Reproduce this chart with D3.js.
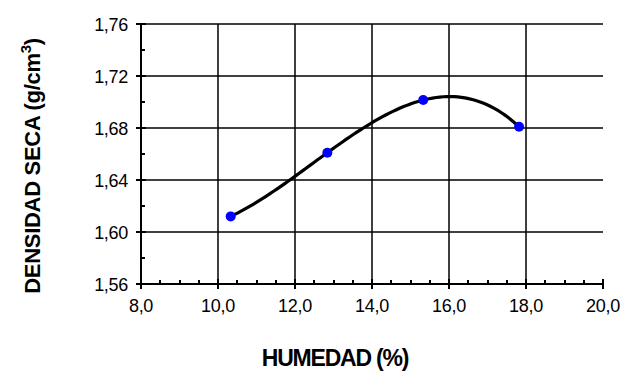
<!DOCTYPE html>
<html><head><meta charset="utf-8">
<script src="https://cdn.jsdelivr.net/npm/d3@7"></script>
<style>html,body{margin:0;padding:0;background:#fff;}svg{display:block;}</style>
</head><body>
<script>
const humedad = [10.33, 12.84, 15.33, 17.82];
const densidad = [1.612, 1.661, 1.7015, 1.681];
const xTicks = [8, 10, 12, 14, 16, 18, 20];
const yTicks = [1.56, 1.60, 1.64, 1.68, 1.72, 1.76];
const xTitle = "HUMEDAD (%)";
const yTitle = "DENSIDAD SECA (g/cm";

const W = 633, H = 378;
const svg = d3.select("body").append("svg").attr("width", W).attr("height", H);
const x = d3.scaleLinear().domain([8, 20]).range([141, 603]);
const y = d3.scaleLinear().domain([1.56, 1.76]).range([284, 24]);
const fmt = (d, p) => d.toFixed(p).replace(".", ",");
const FONT = "Liberation Sans, Arial, sans-serif";

// grid
svg.append("g").selectAll("line").data(yTicks.slice(1)).join("line")
  .attr("x1", x(8)).attr("x2", x(20)).attr("y1", d => Math.round(y(d))).attr("y2", d => Math.round(y(d)))
  .attr("stroke", "#000").attr("stroke-width", 1.5);
svg.append("g").selectAll("line").data(xTicks.slice(1, -1)).join("line")
  .attr("y1", y(1.56)).attr("y2", y(1.76)).attr("x1", d => Math.round(x(d))).attr("x2", d => Math.round(x(d)))
  .attr("stroke", "#000").attr("stroke-width", 1.5);

// axes
const ax = svg.append("g").attr("stroke", "#000");
ax.append("line").attr("x1", x(8)).attr("x2", x(20)).attr("y1", y(1.56)).attr("y2", y(1.56)).attr("stroke-width", 2);
ax.append("line").attr("x1", x(8)).attr("x2", x(8)).attr("y1", y(1.56)).attr("y2", y(1.76)).attr("stroke-width", 2);
// major ticks
ax.selectAll(".xt").data(xTicks).join("line").attr("class", "xt")
  .attr("x1", d => Math.round(x(d))).attr("x2", d => Math.round(x(d))).attr("y1", y(1.56) - 5).attr("y2", y(1.56) + 5).attr("stroke-width", 2);
ax.selectAll(".yt").data(yTicks).join("line").attr("class", "yt")
  .attr("y1", d => Math.round(y(d))).attr("y2", d => Math.round(y(d))).attr("x1", x(8) - 5).attr("x2", x(8) + 5).attr("stroke-width", 2);
// minor ticks
const xMinor = d3.range(8, 20, 0.5).filter(v => v % 2 !== 0);
ax.selectAll(".xm").data(xMinor).join("line").attr("class", "xm")
  .attr("x1", d => Math.round(x(d))).attr("x2", d => Math.round(x(d))).attr("y1", y(1.56) - 4).attr("y2", y(1.56)).attr("stroke-width", 2);
const yMinor = yTicks.slice(0, -1).map(v => v + 0.02);
ax.selectAll(".ym").data(yMinor).join("line").attr("class", "ym")
  .attr("y1", d => Math.round(y(d))).attr("y2", d => Math.round(y(d))).attr("x1", x(8)).attr("x2", x(8) + 4).attr("stroke-width", 2);

// tick labels
svg.append("g").selectAll("text").data(yTicks).join("text")
  .attr("x", 128).attr("y", d => y(d) + 6.5).attr("text-anchor", "end")
  .attr("font-family", FONT).attr("font-size", 18)
  .attr("letter-spacing", -0.3).text(d => fmt(d, 2));
svg.append("g").selectAll("text").data(xTicks).join("text")
  .attr("x", d => x(d)).attr("y", 312).attr("text-anchor", "middle")
  .attr("font-family", FONT).attr("font-size", 18)
  .attr("letter-spacing", -0.3).text(d => fmt(d, 1));

// titles
svg.append("text").attr("x", 335).attr("y", 366).attr("text-anchor", "middle")
  .attr("font-family", FONT).attr("font-weight", "bold")
  .attr("font-size", 23).attr("letter-spacing", -1.2).text(xTitle);
const yt = svg.append("text").attr("transform", "translate(40,166) rotate(-90)").attr("text-anchor", "middle")
  .attr("font-family", FONT).attr("font-weight", "bold")
  .attr("font-size", 22).attr("letter-spacing", -0.3);
yt.append("tspan").text(yTitle);
yt.append("tspan").attr("dy", -9).attr("font-size", 15).text("3");
yt.append("tspan").attr("dy", 9).text(")");

// cubic interpolation curve through the measured points (Lagrange)
function lagrange(t) {
  let s = 0;
  for (let i = 0; i < humedad.length; i++) {
    let p = densidad[i];
    for (let j = 0; j < humedad.length; j++) if (j !== i) p *= (t - humedad[j]) / (humedad[i] - humedad[j]);
    s += p;
  }
  return s;
}
const n = 80;
const curvePts = d3.range(n + 1).map(k => {
  const t = humedad[0] + (humedad[humedad.length - 1] - humedad[0]) * k / n;
  return [t, lagrange(t)];
});
svg.append("path").datum(curvePts)
  .attr("d", d3.line().x(d => x(d[0])).y(d => y(d[1])))
  .attr("fill", "none").attr("stroke", "#000").attr("stroke-width", 3.2);

// points
svg.append("g").selectAll("circle").data(humedad).join("circle")
  .attr("cx", d => x(d)).attr("cy", (d, i) => y(densidad[i])).attr("r", 5)
  .attr("fill", "#0000ff");
</script>
</body></html>
